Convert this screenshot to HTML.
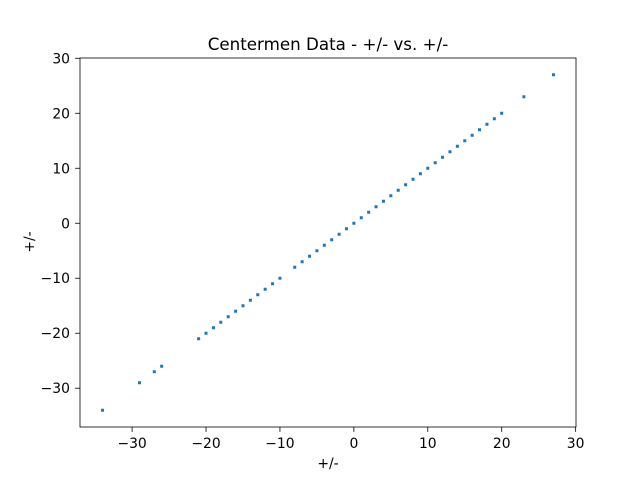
<!DOCTYPE html>
<html><head><meta charset="utf-8"><style>
body{margin:0;background:#fff;}
svg text{font-family:"DejaVu Sans","Liberation Sans",sans-serif;}
</style></head><body>
<svg id="chart" width="640" height="480" xmlns="http://www.w3.org/2000/svg">
<rect width="640" height="480" fill="#fff"/>
<text x="328" y="50" font-size="16.7" text-anchor="middle">Centermen Data - +/- vs. +/-</text>
<g id="marks"></g>
<g id="axes"></g>
<rect x="80" y="58" width="496" height="369" fill="none" stroke="#000" stroke-width="0.8"/>
<text x="328" y="468" font-size="13.9" text-anchor="middle">+/-</text>
<text x="34" y="242" font-size="13.9" text-anchor="middle" transform="rotate(-90 34 242)">+/-</text>
</svg>
<script>
const xValues=[-34,-29,-27,-26,-21,-20,-19,-18,-17,-16,-15,-14,-13,-12,-11,-10,-8,-7,-6,-5,-4,-3,-2,-1,0,1,2,3,4,5,6,7,8,9,10,11,12,13,14,15,16,17,18,19,20,23,27];
const yValues=[-34,-29,-27,-26,-21,-20,-19,-18,-17,-16,-15,-14,-13,-12,-11,-10,-8,-7,-6,-5,-4,-3,-2,-1,0,1,2,3,4,5,6,7,8,9,10,11,12,13,14,15,16,17,18,19,20,23,27];
const xTicks=[-30,-20,-10,0,10,20,30];
const yTicks=[-30,-20,-10,0,10,20,30];
const NS="http://www.w3.org/2000/svg";
const L=80,R=576,T=58,B=427;
const xmin=Math.min(...xValues),xmax=Math.max(...xValues),ymin=Math.min(...yValues),ymax=Math.max(...yValues);
const xm=(xmax-xmin)*0.05,ym=(ymax-ymin)*0.05;
const x0=xmin-xm,x1=xmax+xm,y0=ymin-ym,y1=ymax+ym;
const sx=v=>L+(v-x0)/(x1-x0)*(R-L);
const sy=v=>B-(v-y0)/(y1-y0)*(B-T);
const marks=document.getElementById('marks'),axes=document.getElementById('axes');
for(let i=0;i<xValues.length;i++){
 const r=document.createElementNS(NS,'rect');
 r.setAttribute('x',sx(xValues[i])-1.5);r.setAttribute('y',sy(yValues[i])-1.5);
 r.setAttribute('width',3);r.setAttribute('height',3);r.setAttribute('fill','#1f77b4');
 
 
 marks.appendChild(r);
}
xTicks.forEach(t=>{
 const x=sx(t);
 const l=document.createElementNS(NS,'line');
 l.setAttribute('x1',x);l.setAttribute('x2',x);l.setAttribute('y1',B);l.setAttribute('y2',B+4.9);l.setAttribute('stroke','#000');l.setAttribute('stroke-width','0.8');
 
 
 axes.appendChild(l);
 const tx=document.createElementNS(NS,'text');
 tx.setAttribute('x',x);tx.setAttribute('y',B+21);tx.setAttribute('font-size','13.9');tx.setAttribute('text-anchor','middle');
 tx.textContent=t<0?'\u2212'+(-t):t;
 
 
 axes.appendChild(tx);
});
yTicks.forEach(t=>{
 const y=sy(t);
 const l=document.createElementNS(NS,'line');
 l.setAttribute('x1',L-4.9);l.setAttribute('x2',L);l.setAttribute('y1',y);l.setAttribute('y2',y);l.setAttribute('stroke','#000');l.setAttribute('stroke-width','0.8');
 
 
 axes.appendChild(l);
 const tx=document.createElementNS(NS,'text');
 tx.setAttribute('x',L-10);tx.setAttribute('y',y+5);tx.setAttribute('font-size','13.9');tx.setAttribute('text-anchor','end');
 tx.textContent=t<0?'\u2212'+(-t):t;
 
 
 axes.appendChild(tx);
});
</script>
</body></html>
